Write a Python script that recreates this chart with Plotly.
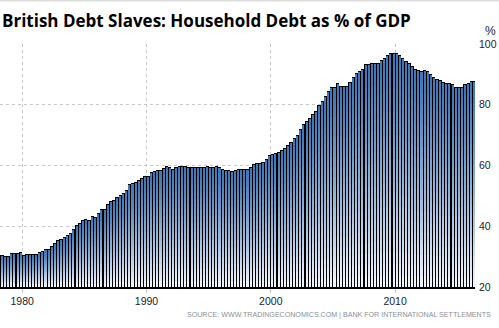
import numpy as np
import pandas as pd
import plotly.graph_objects as go

# UK household debt as % of GDP, quarterly, 1978Q2 - 2016Q2 (BIS)
start_quarter = "1978Q2"
debt_pct_gdp = [
    30.5, 30.2, 30.2, 31.1, 31.1, 31.1, 31.4, 30.4, 30.8, 30.8,
    30.8, 30.8, 31.4, 31.7, 32.4, 32.4, 33.4, 34.4, 35.5, 35.8,
    36.4, 37.0, 37.7, 39.1, 40.3, 41.0, 41.9, 42.3, 41.9, 43.3,
    42.9, 44.2, 45.6, 45.6, 47.2, 48.2, 48.8, 49.5, 50.2, 50.8,
    52.1, 53.8, 54.2, 54.5, 55.2, 55.8, 56.4, 56.7, 57.7, 58.1,
    58.4, 58.4, 59.2, 59.7, 59.6, 59.0, 59.4, 60.0, 60.0, 59.7,
    59.4, 59.4, 59.4, 59.4, 59.4, 59.4, 59.7, 59.4, 59.4, 59.7,
    59.4, 58.7, 58.4, 58.4, 58.2, 58.4, 58.7, 58.7, 59.0, 59.0,
    59.4, 60.4, 60.7, 60.7, 61.3, 62.3, 63.3, 63.8, 64.1, 64.4,
    65.0, 65.6, 66.6, 67.9, 69.2, 70.2, 71.9, 73.5, 74.8, 75.5,
    76.8, 78.1, 79.8, 81.3, 82.8, 84.4, 86.0, 86.0, 87.0, 86.1,
    86.3, 86.3, 87.5, 89.0, 90.3, 91.2, 91.9, 93.3, 93.3, 93.6,
    93.8, 93.8, 94.6, 95.4, 96.4, 97.0, 97.2, 97.2, 96.4, 95.3,
    94.4, 93.7, 92.7, 91.9, 91.4, 91.0, 91.3, 91.0, 90.0, 89.2,
    88.6, 88.0, 87.5, 87.2, 87.2, 86.8, 86.0, 86.0, 86.0, 86.7,
    87.3, 87.7, 87.7,
]
year_ticks = [1980, 1990, 2000, 2010]
pct_ticks = [20, 40, 60, 80, 100]

quarters = pd.period_range(start=start_quarter, periods=len(debt_pct_gdp), freq="Q")
# bar position: middle of each quarter, in decimal years
xpos = np.array([q.year + (q.quarter - 0.5) / 4 for q in quarters])
values = np.array(debt_pct_gdp)

W, H = 499, 328
M_L, M_R, M_T, M_B = 0, 24, 44, 41
plot_w = W - M_L - M_R
plot_h = H - M_T - M_B

Y_MIN, Y_MAX = 20, 100
units_per_px = (Y_MAX - Y_MIN) / plot_h

QUARTER = 0.25
FILL_W = QUARTER * 0.66          # coloured interior, leaves a black edge between bars
TOP_RGB = np.array([66, 120, 182])
BOTTOM_RGB = np.array([238, 244, 251])
N_LAYERS = 20

fig = go.Figure()

# black body of each bar (full quarter wide, so neighbours share one black edge)
fig.add_trace(go.Bar(
    x=xpos, y=values, width=QUARTER,
    marker=dict(color="black", line=dict(width=0)),
    showlegend=False,
))

# vertical gradient inside every bar, one pixel below the black top edge
inner_top = values - 1.0 * units_per_px
for k in range(N_LAYERS):
    f = 1 - k / N_LAYERS
    t = (k / (N_LAYERS - 1)) ** 1.2
    rgb = (TOP_RGB * (1 - t) + BOTTOM_RGB * t).round().astype(int)
    fig.add_trace(go.Bar(
        x=xpos,
        y=Y_MIN + (inner_top - Y_MIN) * f,
        width=FILL_W,
        marker=dict(color=f"rgb({rgb[0]},{rgb[1]},{rgb[2]})", line=dict(width=0)),
        hoverinfo="skip",
        showlegend=False,
    ))

# x range: 12.43 px per year, first visible bar just at the left edge
px_per_year = 12.43
x0 = xpos[0] - 0.16
x1 = x0 + plot_w / px_per_year

axis_font = dict(family="Liberation Sans", size=10.5, color="#1c1c2e")

fig.update_layout(
    width=W, height=H,
    margin=dict(l=M_L, r=M_R, t=M_T, b=M_B, pad=0),
    paper_bgcolor="white",
    plot_bgcolor="white",
    barmode="overlay",
    bargap=0,
    bargroupgap=0,
    title=dict(
        text="<b>British Debt Slaves: Household Debt as % of GDP</b>",
        font=dict(family="Open Sans", size=17, color="black"),
        xref="container", x=0.004, xanchor="left",
        yref="container", y=1 - 21.5 / H, yanchor="middle",
    ),
    xaxis=dict(
        range=[x0, x1],
        tickvals=year_ticks,
        ticktext=[str(y) for y in year_ticks],
        showgrid=True, gridcolor="#c8c8c8", griddash="dot", gridwidth=1,
        ticks="outside", ticklen=4, tickcolor="#c8c8c8",
        showline=True, linecolor="black", linewidth=1.5,
        zeroline=False,
        tickfont=axis_font,
    ),
    yaxis=dict(
        range=[Y_MIN, Y_MAX],
        side="right",
        tickvals=pct_ticks,
        showgrid=True, gridcolor="#c8c8c8", griddash="dot", gridwidth=1,
        ticks="", zeroline=False, showline=False,
        tickfont=axis_font,
        ticklabelstandoff=3,
    ),
    shapes=[dict(
        type="line", xref="paper", yref="paper",
        x0=-0.01, x1=W / plot_w, y0=(H - M_B - 0.5) / plot_h, y1=(H - M_B - 0.5) / plot_h,
        line=dict(color="#dcdcdc", width=2),
    )],
    annotations=[
        dict(
            text="%", xref="paper", yref="paper",
            x=490 / plot_w, y=(H - M_B - 31) / plot_h,
            xanchor="center", yanchor="middle", showarrow=False,
            font=dict(family="Liberation Sans", size=12, color="#1c1c2e"),
        ),
        dict(
            text="SOURCE: WWW.TRADINGECONOMICS.COM | BANK FOR INTERNATIONAL SETTLEMENTS",
            xref="paper", yref="paper",
            x=493 / plot_w, y=(H - M_B - 315) / plot_h,
            xanchor="right", yanchor="middle", showarrow=False,
            font=dict(family="Liberation Sans", size=7.1, color="#8a8f98"),
        ),
    ],
)

fig.write_html("out.html")
